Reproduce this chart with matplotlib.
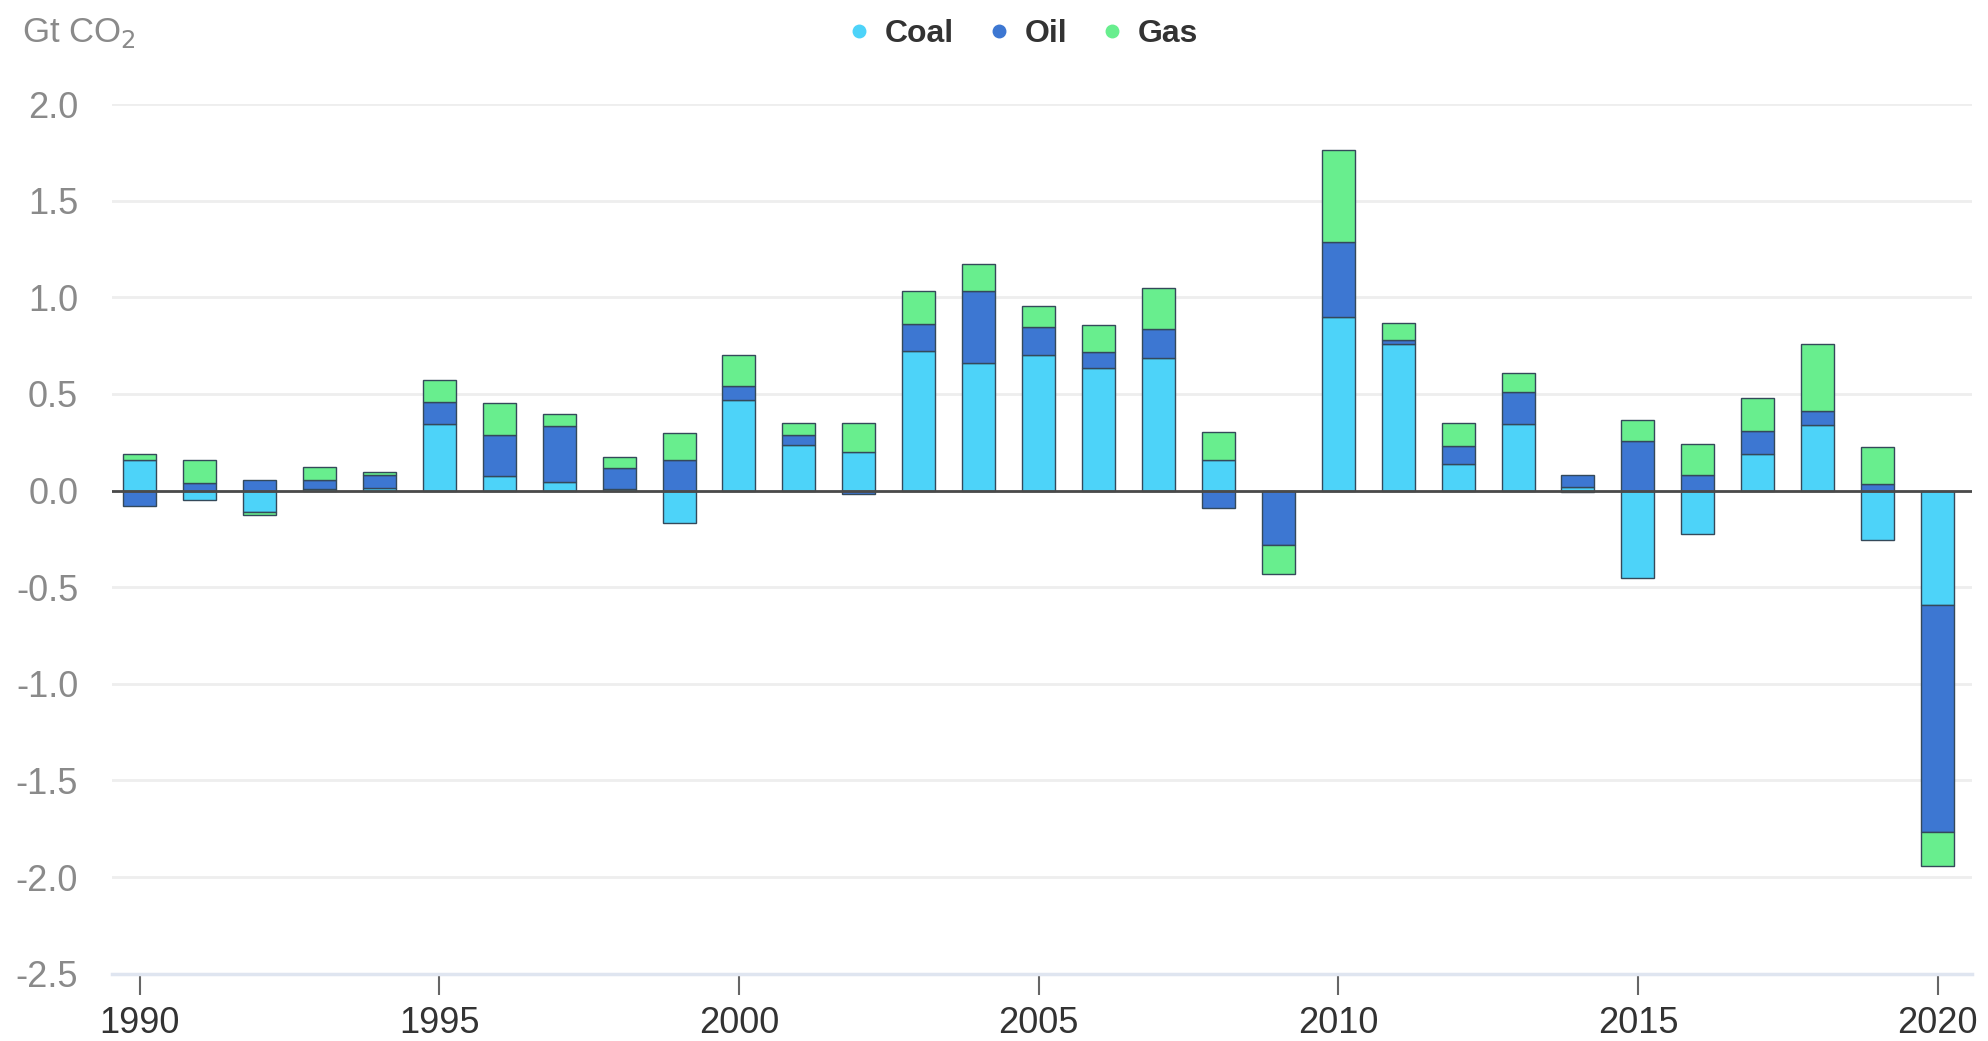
import numpy as np
import matplotlib.pyplot as plt
from matplotlib.lines import Line2D
from matplotlib.ticker import FormatStrFormatter

plt.rcParams['font.family'] = ['Liberation Sans', 'DejaVu Sans']
plt.rcParams['axes.unicode_minus'] = False

# annual change in CO2 emissions by fuel, Gt CO2
years = np.arange(1990, 2021)
coal = [0.16, -0.05, -0.11, 0.01, 0.015, 0.345, 0.075, 0.045, 0.01, -0.17,
        0.47, 0.235, 0.20, 0.72, 0.66, 0.70, 0.635, 0.685, 0.16, 0.0,
        0.90, 0.76, 0.14, 0.345, 0.02, -0.45, -0.225, 0.19, 0.34, -0.255,
        -0.59]
oil = [-0.08, 0.04, 0.055, 0.045, 0.065, 0.115, 0.215, 0.29, 0.105, 0.16,
       0.07, 0.055, -0.02, 0.14, 0.375, 0.145, 0.08, 0.15, -0.09, -0.28,
       0.385, 0.02, 0.09, 0.165, 0.06, 0.255, 0.08, 0.12, 0.07, 0.035,
       -1.175]
gas = [0.03, 0.12, -0.015, 0.065, 0.017, 0.11, 0.165, 0.06, 0.06, 0.14,
       0.16, 0.06, 0.15, 0.175, 0.135, 0.11, 0.14, 0.215, 0.145, -0.15,
       0.48, 0.085, 0.12, 0.10, -0.01, 0.11, 0.16, 0.17, 0.35, 0.19,
       -0.18]
series = [('Coal', coal, '#4dd3f9'), ('Oil', oil, '#3d77d2'), ('Gas', gas, '#68ee8e')]

fig = plt.figure(figsize=(19.88, 10.41), dpi=100)
ax = fig.add_axes([0.0561, 0.0647, 0.936, 0.8353])

pos_base = np.zeros(len(years))
neg_base = np.zeros(len(years))
for name, vals, col in series:
    v = np.array(vals)
    base = np.where(v >= 0, pos_base, neg_base)
    ax.bar(years, v, bottom=base, width=0.55, color=col,
           edgecolor='#34495a', linewidth=1.0, zorder=2)
    pos_base += np.clip(v, 0, None)
    neg_base += np.clip(v, None, 0)

ax.axhline(0, color='#4a4a4a', lw=2, zorder=3)

ax.set_xlim(1989.53, 2020.58)
ax.set_ylim(-2.5, 2.0)
ax.set_yticks(np.arange(-2.5, 2.01, 0.5))
ax.yaxis.set_major_formatter(FormatStrFormatter('%.1f'))
ax.set_xticks(np.arange(1990, 2021, 5))
ax.grid(axis='y', color='#eeeeee', lw=2, zorder=0)
ax.set_axisbelow(True)

for s in ['top', 'right', 'left']:
    ax.spines[s].set_visible(False)
ax.spines['bottom'].set_color('#dfe5f0')
ax.spines['bottom'].set_linewidth(2.5)

ax.tick_params(axis='y', length=0, pad=24, labelsize=26, labelcolor='#8a8a8a')
ax.tick_params(axis='x', length=15, width=1.5, color='#666666', pad=8,
               labelsize=26, labelcolor='#333333')

fig.text(0.011, 0.968, 'Gt CO$_2$', fontsize=25, color='#8a8a8a',
         va='center', ha='left')

handles = [Line2D([], [], marker='o', ls='', color=c, markersize=9, label=n)
           for n, _, c in series]
fig.legend(handles=handles, loc='center', bbox_to_anchor=(0.515, 0.967),
           ncol=3, frameon=False, prop={'weight': 'bold', 'size': 23},
           handlelength=0.6, handletextpad=0.5, columnspacing=1.1,
           labelcolor='#333333')

fig.savefig('out.png', dpi=100, facecolor='white')
